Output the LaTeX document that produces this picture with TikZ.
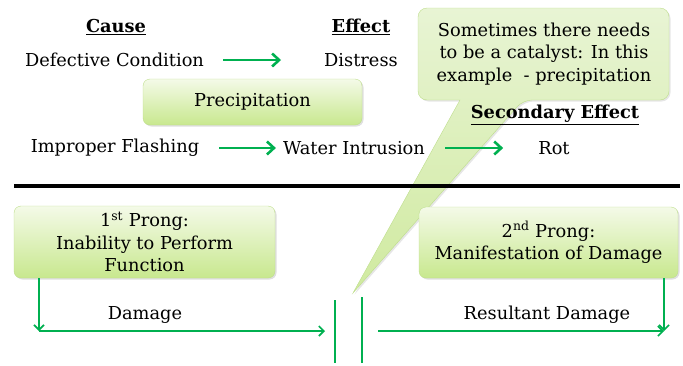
\documentclass[tikz,border=0pt]{standalone}
\usepackage{fontspec}
\setmainfont{DejaVu Serif}
\usetikzlibrary{arrows.meta,shadows}
\definecolor{arrowgreen}{RGB}{0,176,80}
\definecolor{boxedge}{RGB}{190,222,140}
\definecolor{boxtop}{RGB}{244,250,232}
\definecolor{boxbot}{RGB}{200,232,142}
\definecolor{calltop}{RGB}{232,244,212}
\definecolor{callbot}{RGB}{208,234,160}

\begin{document}
\begin{tikzpicture}[x=1pt,y=-1pt,
  lbl/.style={font=\fontsize{17.8}{22}\selectfont,inner sep=1pt},
  head/.style={lbl,font=\fontsize{17.8}{22}\selectfont\bfseries},
  gbox/.style={draw=boxedge,rounded corners=7pt,top color=boxtop,bottom color=boxbot,
    drop shadow={opacity=0.25,shadow xshift=1.5pt,shadow yshift=-1.5pt},
    font=\fontsize{17.8}{22.5}\selectfont,align=center,inner sep=0pt},
  flow/.style={-{Straight Barb[length=7pt,width=13pt]},line width=2.6pt,arrowgreen},
  prong/.style={-{Straight Barb[length=5pt,width=10pt]},line width=1.6pt,arrowgreen},
  bar/.style={line width=1.8pt,arrowgreen}
]
  \useasboundingbox (0,0) rectangle (683,365);
  % catalyst callout
  \path[draw=boxedge,top color=calltop,bottom color=callbot,
    drop shadow={opacity=0.2,shadow xshift=1.5pt,shadow yshift=-1.5pt}]
    (545,8) [rounded corners=9pt] -- (669,8) -- (669,100) -- (523,100)
    [sharp corners] -- (353,293) -- (460,100) [rounded corners=9pt] -- (418,100)
    -- (418,8) -- cycle;
  \node[lbl,align=center,font=\fontsize{17.8}{22.5}\selectfont] (catalyst) at (544,54)
    {Sometimes there needs\\to be a catalyst: In this\\example \ - precipitation};
  % cause and effect rows
  \node[head] (cause) at (116,27) {\underline{Cause}};
  \node[head] (effect) at (361,27) {\underline{Effect}};
  \node[head] (secondary) at (555,115) {\underline{Secondary Effect}};
  \node[lbl] (defect) at (114.5,60) {Defective Condition};
  \node[lbl] (distress) at (361,60) {Distress};
  \node[gbox,minimum width=219pt,minimum height=46pt] (precip) at (252.5,102) {Precipitation};
  \node[lbl] (flashing) at (115,148) {Improper Flashing};
  \node[lbl] (water) at (354,148) {Water Intrusion};
  \node[lbl] (rot) at (554,148) {Rot};
  \draw[flow,shorten <=18pt,shorten >=42pt] (defect) -- (distress);
  \draw[flow,shorten <=19pt,shorten >=6pt] (flashing) -- (water);
  \draw[flow,shorten <=19pt,shorten >=34pt] (water) -- (rot);
  % divider
  \draw[line width=3.5pt] (14,186) -- (680,186);
  % prongs
  \node[gbox,minimum width=261pt,minimum height=72pt] (prong1) at (144.5,242)
    {1\textsuperscript{st} Prong:\\Inability to Perform\\Function};
  \node[gbox,minimum width=259pt,minimum height=71pt] (prong2) at (548.5,242.5)
    {2\textsuperscript{nd} Prong:\\Manifestation of Damage};
  \coordinate (dmgturn) at (39,331);
  \coordinate (dmgend) at (325,331);
  \coordinate (resstart) at (378,331);
  \coordinate (resturn) at (664,331);
  \draw[prong] (prong1.south -| dmgturn) -- (dmgturn);
  \draw[prong] (dmgturn) -- (dmgend);
  \draw[prong] (resstart) -- (resturn);
  \draw[prong] (prong2.south -| resturn) -- (resturn);
  \node[lbl] (damage) at (145,315) {Damage};
  \node[lbl] (resultant) at (547,315) {Resultant Damage};
  % gap bars
  \draw[bar] (335,300) -- (335,363);
  \draw[bar] (362,297) -- (362,363);
\end{tikzpicture}
\end{document}
